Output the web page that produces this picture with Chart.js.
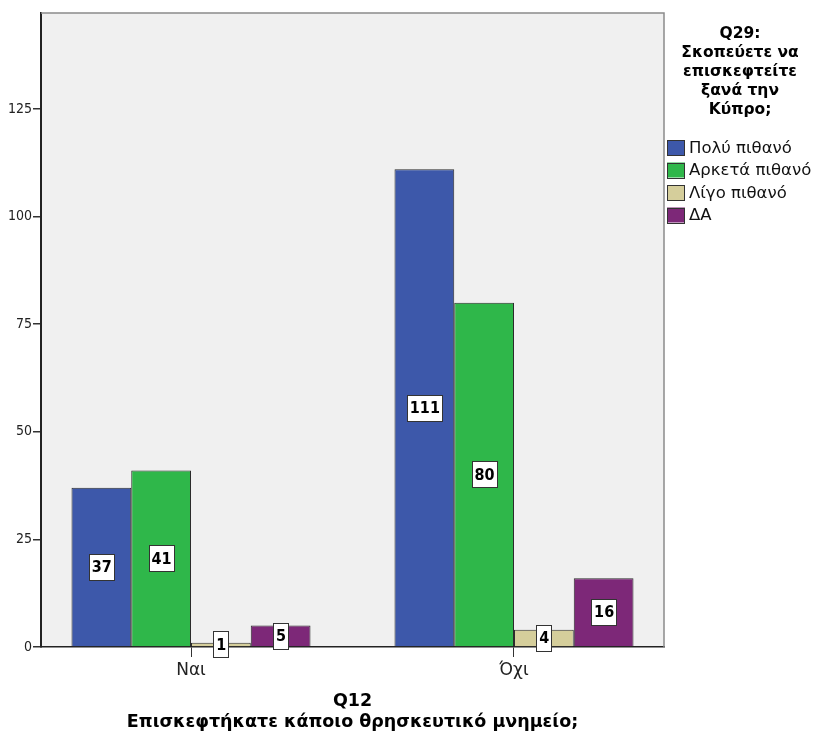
<!DOCTYPE html>
<html>
<head>
<meta charset="utf-8">
<script src="https://cdn.jsdelivr.net/npm/chart.js@4"></script>
<style>
  html, body { margin: 0; padding: 0; background: #fff; }
  #wrap { width: 816px; height: 736px; }
</style>
</head>
<body>
<div id="wrap"><canvas id="chart" width="816" height="736"></canvas></div>
<script>
// Q12 x Q29 counts
const categories = ['Ναι', 'Όχι'];
const seriesNames = ['Πολύ πιθανό', 'Αρκετά πιθανό', 'Λίγο πιθανό', 'ΔΑ'];
const polyPithano = [37, 111];
const arketaPithano = [41, 80];
const ligoPithano = [1, 4];
const da = [5, 16];
const yTicks = [0, 25, 50, 75, 100, 125];

const legendTitle = ['Q29:', 'Σκοπεύετε να', 'επισκεφτείτε', 'ξανά την', 'Κύπρο;'];
const xTitle = ['Q12', 'Επισκεφτήκατε κάποιο θρησκευτικό μνημείο;'];

const colors = ['#3d58aa', '#2fb74a', '#d5ce9b', '#7d2878'];
const allValues = [polyPithano, arketaPithano, ligoPithano, da];

const DEJAVU = "'DejaVu Sans', sans-serif";
const CONDENSED = "'DejaVu Sans Condensed', 'Liberation Sans Narrow', sans-serif";

// plot background + frame
const plotBg = {
  id: 'plotBg',
  beforeDraw(chart) {
    const { ctx, chartArea: a } = chart;
    ctx.save();
    ctx.fillStyle = '#f0f0f0';
    ctx.fillRect(a.left, a.top, a.right - a.left, a.bottom - a.top);
    ctx.restore();
  },
  afterDraw(chart) {
    const { ctx, chartArea: a } = chart;
    ctx.save();
    ctx.strokeStyle = '#8a8a8a';
    ctx.lineWidth = 1.5;
    ctx.beginPath();
    ctx.moveTo(a.left, a.top);
    ctx.lineTo(a.right, a.top);
    ctx.lineTo(a.right, a.bottom);
    ctx.stroke();
    ctx.restore();
  }
};

// boxed value labels in the middle of each bar
const boxLabels = {
  id: 'boxLabels',
  afterDatasetsDraw(chart) {
    const ctx = chart.ctx;
    ctx.save();
    ctx.font = 'bold 16px ' + CONDENSED;
    ctx.textAlign = 'center';
    ctx.textBaseline = 'middle';
    chart.data.datasets.forEach((ds, di) => {
      chart.getDatasetMeta(di).data.forEach((bar, i) => {
        const txt = String(ds.data[i].y);
        const cy = (bar.y + bar.base) / 2;
        const w = Math.round(ctx.measureText(txt).width + 5);
        const h = 26;
        const x0 = Math.round(bar.x - w / 2), y0 = Math.round(cy - h / 2);
        ctx.fillStyle = '#fff';
        ctx.fillRect(x0, y0, w, h);
        ctx.strokeStyle = '#333';
        ctx.lineWidth = 1;
        ctx.strokeRect(x0 + 0.5, y0 + 0.5, w, h);
        ctx.fillStyle = '#000';
        ctx.fillText(txt, bar.x + 0.5, cy + 1);
      });
    });
    ctx.restore();
  }
};

// legend at right, title block above the item list
const sideLegend = {
  id: 'sideLegend',
  afterDraw(chart) {
    const ctx = chart.ctx;
    ctx.save();
    ctx.fillStyle = '#000';
    ctx.font = 'bold 15.5px ' + DEJAVU;
    ctx.textAlign = 'center';
    ctx.textBaseline = 'middle';
    legendTitle.forEach((line, i) => ctx.fillText(line, 740, 34 + i * 19));

    ctx.font = '16.5px ' + DEJAVU;
    ctx.textAlign = 'left';
    chart.data.datasets.forEach((ds, i) => {
      const cy = 147.5 + i * 22.5;
      ctx.fillStyle = ds.backgroundColor;
      ctx.fillRect(667, cy - 7.5, 18, 15);
      ctx.strokeStyle = '#333';
      ctx.lineWidth = 1;
      ctx.strokeRect(667.5, Math.round(cy - 7.5) + 0.5, 17, 15);
      ctx.fillStyle = '#111';
      ctx.fillText(ds.label, 689, cy + 1);
    });
    ctx.restore();
  }
};

const ctx = document.getElementById('chart').getContext('2d');
const chart = new Chart(ctx, {
  type: 'bar',
  data: {
    datasets: seriesNames.map((name, s) => ({
      label: name,
      data: allValues[s].map((v, i) => ({ x: i, y: v })),
      backgroundColor: colors[s],
      borderColor: '#2b2b2b',
      borderWidth: 1,
      categoryPercentage: 0.74,
      barPercentage: 1
    }))
  },
  options: {
    responsive: false,
    animation: false,
    devicePixelRatio: 1,
    layout: { padding: { top: 13, right: 152, left: 0, bottom: 0 } },
    plugins: {
      legend: { display: false },
      tooltip: { enabled: false }
    },
    scales: {
      x: {
        type: 'linear',
        offset: false,
        min: -0.4644,
        max: 1.4644,
        afterBuildTicks(scale) {
          scale.ticks = categories.map((c, i) => ({ value: i }));
        },
        afterFit(scale) { scale.height = 89; },
        grid: { offset: false, drawOnChartArea: false, drawTicks: true, tickLength: 10, color: '#333', lineWidth: 1 },
        border: { display: true, color: '#222', width: 1.5 },
        ticks: {
          padding: 3,
          color: '#222',
          font: { family: DEJAVU, size: 17 },
          callback: (v) => categories[v] ?? ''
        },
        title: {
          display: true,
          text: xTitle,
          color: '#000',
          font: { family: DEJAVU, size: 17.5, weight: 'bold', lineHeight: 1.2 },
          padding: { top: 0, bottom: 3 }
        }
      },
      y: {
        min: 0,
        max: 147.3,
        afterBuildTicks(scale) {
          scale.ticks = yTicks.map(v => ({ value: v }));
        },
        afterFit(scale) { scale.width = 41; },
        grid: { drawOnChartArea: false, drawTicks: true, tickLength: 8, color: '#333', lineWidth: 1.5 },
        border: { display: true, color: '#222', width: 2 },
        ticks: {
          padding: 1,
          color: '#222',
          font: { family: CONDENSED, size: 14 }
        }
      }
    }
  },
  plugins: [plotBg, boxLabels, sideLegend]
});
</script>
</body>
</html>
